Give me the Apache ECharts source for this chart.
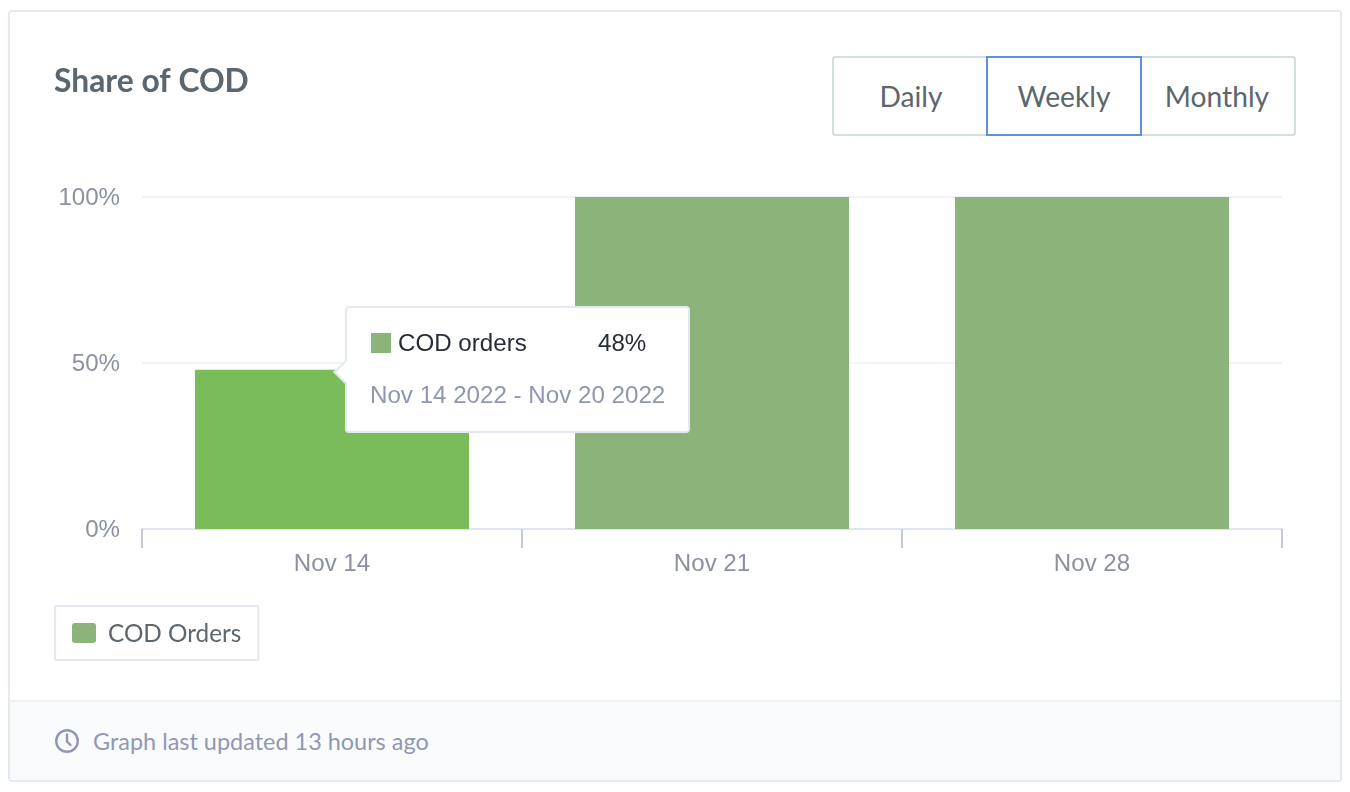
<!DOCTYPE html>
<html><head><meta charset="utf-8">
<style>
html,body{margin:0;padding:0;width:1350px;height:792px;background:#fff;overflow:hidden;font-family:Lato,sans-serif}
#card{position:absolute;left:8px;top:10px;width:1330px;height:768px;border:2px solid #e4e9f2;border-radius:4px;box-sizing:content-box;background:#fff;overflow:hidden}
#foot{position:absolute;left:0;right:0;top:688px;height:80px;background:#fafbfd;border-top:2px solid #eef1f6}
#updated{position:absolute;left:93px;top:725px;font-size:23.45px;line-height:32px;color:#8f98b3;white-space:nowrap}
#clock{position:absolute;left:55px;top:729px}
#chart{position:absolute;left:0;top:0;width:1350px;height:792px}
.btn{position:absolute;top:56px;height:80px;box-sizing:border-box;border:2px solid #d5dfe1;background:#fff;font-size:28.2px;line-height:77.5px;text-align:center;color:#5b666e}
#b1{left:832px;width:156px;border-radius:4px 0 0 4px;border-right:none}
#b3{left:1140px;width:156px;border-radius:0 4px 4px 0;border-left:none}
#b2{left:986px;width:156px;border-color:#5f8ce6;z-index:2}
</style></head><body>
<div id="card"><div id="foot"></div></div>
<div class="btn" id="b1">Daily</div><div class="btn" id="b2">Weekly</div><div class="btn" id="b3">Monthly</div>
<svg id="clock" width="26" height="26" viewBox="0 0 26 26" fill="none" stroke="#8f98b3" stroke-width="2.4" stroke-linecap="round"><circle cx="12" cy="12" r="10.8"/><path d="M12 5.5V12.5L15.5 16"/></svg>
<div id="updated">Graph last updated 13 hours ago</div>
<div id="chart"></div>
<script src="https://cdn.jsdelivr.net/npm/echarts@6/dist/echarts.min.js"></script>
<script>
const categories = ['Nov 14', 'Nov 21', 'Nov 28'];
const codOrders = [48, 100, 100];
const yTicks = [0, 50, 100];
const seriesName = 'COD Orders';
const tooltipName = 'COD orders';
const tooltipRanges = ['Nov 14 2022 - Nov 20 2022', 'Nov 21 2022 - Nov 27 2022', 'Nov 28 2022 - Dec 04 2022'];
const titleText = 'Share of COD';

const SANS = '"Liberation Sans", Arial, sans-serif';
const chart = echarts.init(document.getElementById('chart'), null, {renderer: 'canvas'});
chart.setOption({
  animation: false,
  backgroundColor: 'transparent',
  title: {text: titleText, left: 54, top: 64, padding: 0,
    textStyle: {fontFamily: 'Lato', fontWeight: 'bold', fontSize: 31.8, color: '#5b666e', lineHeight: 36}},
  grid: {left: 142, right: 68, top: 197, bottom: 263, containLabel: false},
  legend: {left: 55, top: 606, orient: 'horizontal', selectedMode: false,
    padding: [14, 17, 14, 17], borderColor: '#e3e8f3', borderWidth: 2, borderRadius: 1,
    icon: 'path://M3 0H21Q24 0 24 3V17Q24 20 21 20H3Q0 20 0 17V3Q0 0 3 0Z', itemWidth: 24, itemHeight: 20, itemGap: 0,
    formatter: '{t|{name}}',
    textStyle: {rich: {t: {fontFamily: 'Lato', fontSize: 24.3, color: '#5b666e', padding: [2, 0, 0, 7], lineHeight: 24}}},
    data: [seriesName]},
  xAxis: {type: 'category', data: categories, boundaryGap: true,
    axisLine: {lineStyle: {color: '#dfe5f0', width: 2}},
    axisTick: {show: true, length: 19, alignWithLabel: false, lineStyle: {color: '#c8cbd2', width: 2}},
    axisLabel: {fontFamily: SANS, fontSize: 24.1, color: '#8b91a1', margin: 23}},
  yAxis: {type: 'value', min: yTicks[0], max: yTicks[2], interval: yTicks[1],
    axisLine: {show: false}, axisTick: {show: false},
    axisLabel: {margin: 22, formatter: '{t|{value}%}',
      rich: {t: {fontFamily: SANS, fontSize: 24.1, color: '#8b91a1', padding: [3, 0, 0, 0]}}},
    splitLine: {lineStyle: {color: '#f1f3f8', width: 2}}},
  tooltip: {trigger: 'item', alwaysShowContent: true, transitionDuration: 0, showDelay: 0,
    position: [345, 306], padding: 0, borderWidth: 2, borderColor: '#e3e9f3', backgroundColor: '#fff',
    extraCssText: 'box-shadow:none;border-radius:4px;box-sizing:border-box;width:345px;height:127px;',
    formatter: p => '<div style="position:relative;width:341px;height:123px;font-family:' + SANS.replace(/"/g, "'") + ';font-size:24.15px;line-height:28px">'
      + '<div style="position:absolute;left:-10px;top:55px;width:16px;height:16px;background:#fff;border-left:2px solid #e3e9f3;border-bottom:2px solid #e3e9f3;transform:rotate(45deg)"></div>'
      + '<div style="position:absolute;left:24px;top:25px;width:20px;height:20px;background:#8bb37a"></div>'
      + '<div style="position:absolute;left:51px;top:21px;color:#262c3a">' + tooltipName + '</div>'
      + '<div style="position:absolute;left:251px;top:21px;color:#262c3a">' + p.value + '%</div>'
      + '<div style="position:absolute;left:23px;top:73px;color:#8f96b0;white-space:nowrap">' + tooltipRanges[p.dataIndex] + '</div>'
      + '</div>'},
  series: [{name: seriesName, type: 'bar', data: codOrders, barWidth: 274,
    itemStyle: {color: '#8bb37a'},
    emphasis: {itemStyle: {color: '#79bc59'}}}]
});
chart.dispatchAction({type: 'highlight', seriesIndex: 0, dataIndex: 0});
chart.dispatchAction({type: 'showTip', seriesIndex: 0, dataIndex: 0});
</script>
</body></html>
